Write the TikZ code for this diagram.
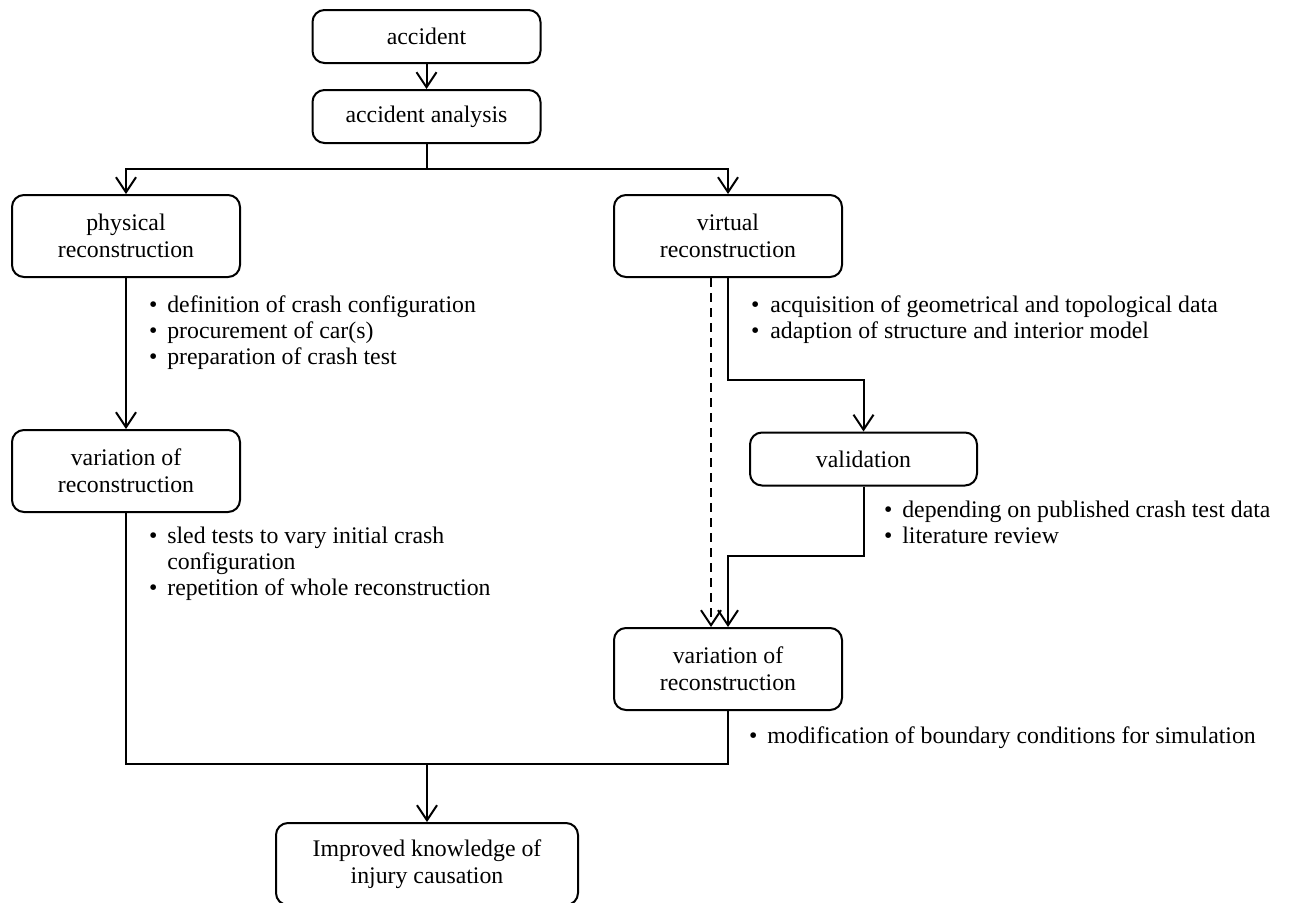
\documentclass[tikz,border=0pt]{standalone}
\usepackage{fontspec}
\setmainfont{Liberation Serif}
\usetikzlibrary{arrows.meta}
\begin{document}
\begin{tikzpicture}[x=1pt,y=-1pt, line width=2pt,
 box/.style={draw, rounded corners=12pt, align=center, inner sep=0pt, minimum width=228pt, font=\fontsize{23.8}{27}\selectfont},
 onebox/.style={box, minimum height=53pt},
 twobox/.style={box, minimum height=82pt},
 arr/.style={-{Straight Barb[length=15pt,width=20pt]}},
 blist/.style={anchor=base west, inner sep=0pt, font=\fontsize{23.8}{26}\selectfont}]
\useasboundingbox (0,0) rectangle (1290,902);

\node[onebox] (acc) at (426.5,36.5) {accident};
\node[onebox] (ana) at (426.5,116.5) {accident analysis};
\node[twobox] (phys) at (126,236) {physical\\reconstruction};
\node[twobox] (virt) at (728,236) {virtual\\reconstruction};
\node[twobox] (varL) at (126,471) {variation of\\reconstruction};
\node[onebox, minimum width=227pt] (val) at (863.5,459) {validation};
\node[twobox] (varR) at (728,669) {variation of\\reconstruction};
\node[twobox, minimum width=302pt] (fin) at (427,864) {Improved knowledge of\\injury causation};

\coordinate (split) at (426.5,169);
\coordinate (bend) at (728,380);
\coordinate (j2) at (728,556);
\coordinate (j3) at (427,764);

\draw[arr] (acc) -- (ana);
\draw (ana.south) -- (split);
\draw[arr] (split) -| (phys.north);
\draw[arr] (split) -| (virt.north);
\draw[arr] (phys) -- (varL);
\draw[arr] (virt.south) -- (bend) -| (val.north);
\draw[arr, dash pattern=on 9pt off 6pt] ([xshift=-17pt]virt.south) -- ([xshift=-17pt]varR.north);
\draw[arr] (val.south) |- (j2) -- (varR.north);
\draw (varL.south) |- (j3);
\draw (varR.south) |- (j3);
\draw[arr] (j3) -- (fin.north);

\node[blist] (l1) at (148,312) {\begin{tabular}[t]{@{}l@{\hspace{10pt}}l@{}}
\textbullet & definition of crash configuration\\
\textbullet & procurement of car(s)\\
\textbullet & preparation of crash test\end{tabular}};
\node[blist] (r1) at (750,312) {\begin{tabular}[t]{@{}l@{\hspace{11pt}}l@{}}
\textbullet & acquisition of geometrical and topological data\\
\textbullet & adaption of structure and interior model\end{tabular}};
\node[blist] (v1) at (883,517) {\begin{tabular}[t]{@{}l@{\hspace{10pt}}l@{}}
\textbullet & depending on published crash test data\\
\textbullet & literature review\end{tabular}};
\node[blist] (l2) at (148,543) {\begin{tabular}[t]{@{}l@{\hspace{10pt}}l@{}}
\textbullet & sled tests to vary initial crash\\
 & configuration\\
\textbullet & repetition of whole reconstruction\end{tabular}};
\node[blist] (r2) at (748,743) {\begin{tabular}[t]{@{}l@{\hspace{10pt}}l@{}}
\textbullet & modification of boundary conditions for simulation\end{tabular}};
\end{tikzpicture}
\end{document}
